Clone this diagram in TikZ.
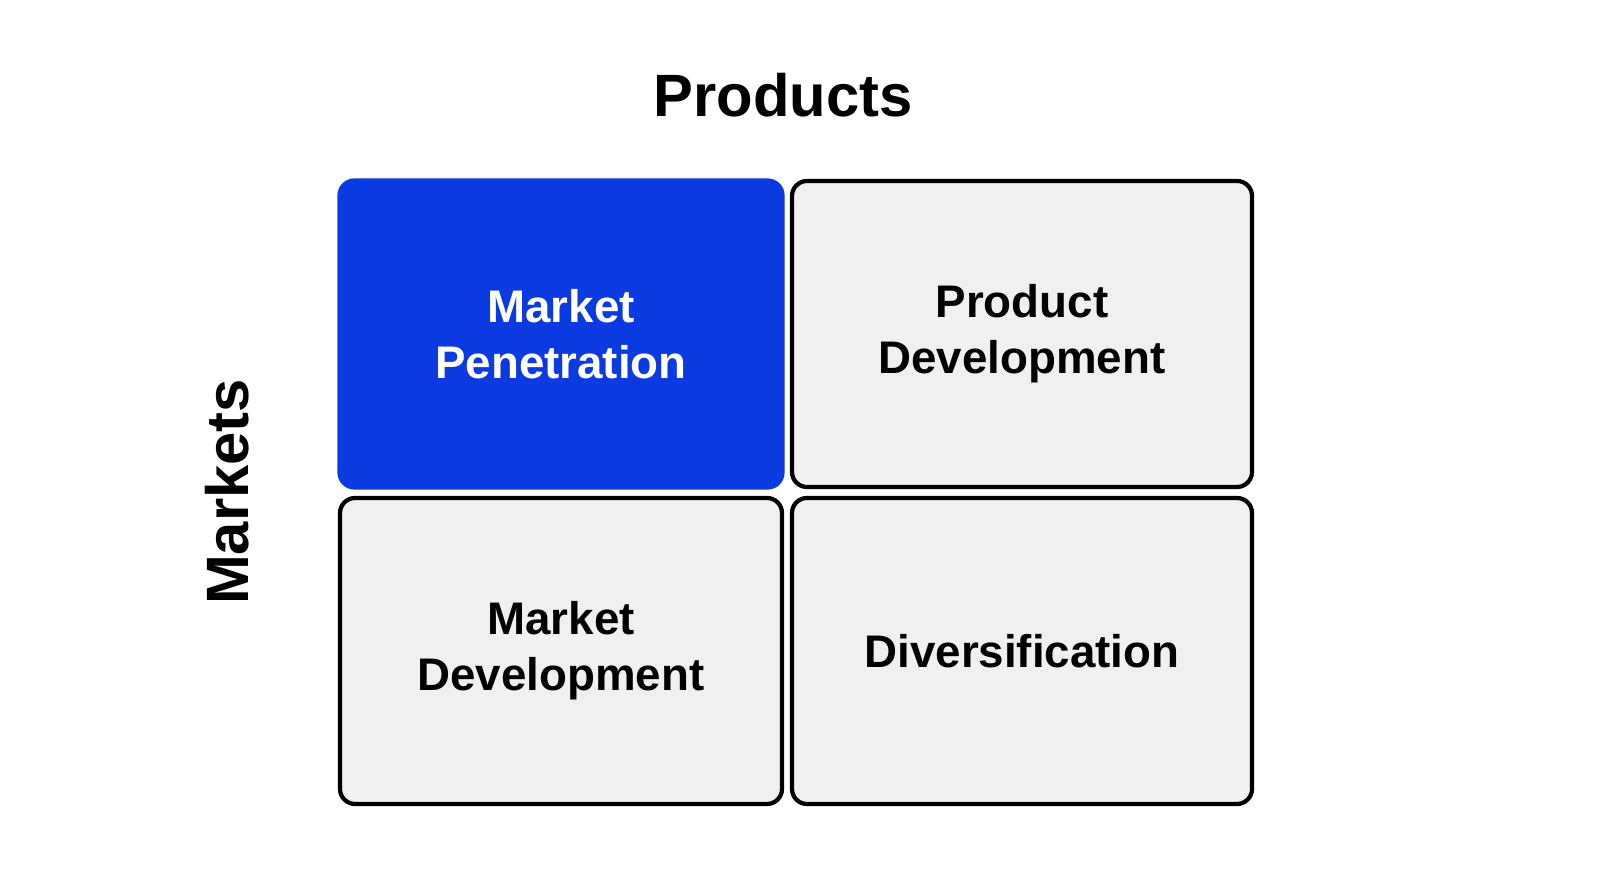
\documentclass[tikz,border=0pt]{standalone}
\usepackage{fontspec}
\setmainfont{Liberation Sans}
\usepackage{tikz}
\definecolor{cellblue}{RGB}{10,58,224}
\definecolor{cellgrey}{RGB}{240,240,240}
\tikzstyle{cell} = [rectangle, rounded corners=0.15cm,
minimum width=4.5cm,
minimum height=3.06cm,
align=center,
font=\fontsize{13}{16}\selectfont\bfseries,
draw=black, line width=1.2pt,
fill=cellgrey]
\tikzstyle{focus} = [cell, draw=cellblue, fill=cellblue, text=white]
\tikzstyle{axis} = [font=\fontsize{17}{20}\selectfont\bfseries]
\begin{document}
\begin{tikzpicture}
\useasboundingbox (0,0) rectangle (16,8.93);
\fill[white] (0,0) rectangle (16,8.93);

\node (title) [axis] at (7.83,7.98) {Products};
\node (side) [axis, rotate=90] at (2.27,4.01) {Markets};

\node (pen) [focus, minimum width=4.43cm, minimum height=3.07cm] at (5.61,5.59) {Market\\Penetration};
\node (prod) [cell, minimum width=4.6cm] at (10.22,5.59) {Product\\Development};
\node (mdev) [cell, minimum width=4.42cm] at (5.61,2.42) {Market\\Development};
\node (div) [cell, minimum width=4.6cm] at (10.22,2.42) {Diversification};

\end{tikzpicture}
\end{document}
